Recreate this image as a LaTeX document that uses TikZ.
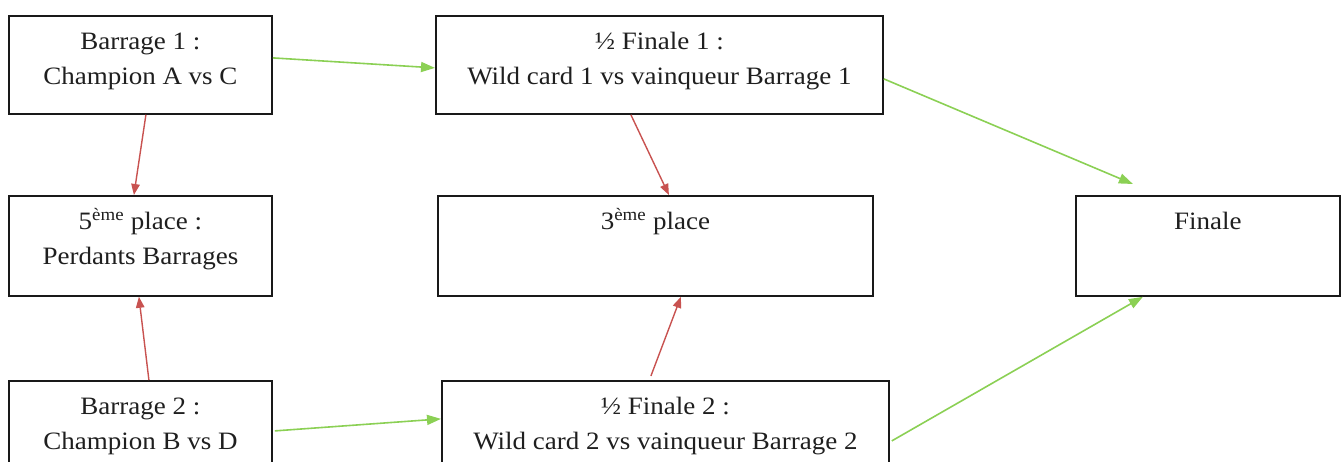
\documentclass[tikz,border=0pt]{standalone}
\usepackage{fontspec}
\setmainfont{Liberation Serif}[FakeStretch=1.08]
\usetikzlibrary{arrows.meta}
\definecolor{gline}{RGB}{139,208,84}
\definecolor{rline}{RGB}{200,82,80}
\begin{document}
\begin{tikzpicture}[x=1pt,y=-1pt,
  box/.style={draw=black!90,line width=1.8pt,anchor=north west,inner sep=0pt,fill=white},
  lbl/.style={anchor=north,inner sep=0pt,align=center,font=\fontsize{25}{35}\selectfont,text=black!88},
  garrow/.style={draw=gline,line width=1.6pt,-{Triangle[length=14pt,width=10pt]}},
  rarrow/.style={draw=rline,line width=1.4pt,-{Triangle[length=11pt,width=8.5pt]}}]
\clip (0,0) rectangle (1344,462);
\useasboundingbox (0,0) rectangle (1344,462);
% boxes
\node[box,minimum width=263pt,minimum height=98pt] (b1) at (8,15) {};
\node[box,minimum width=447pt,minimum height=98pt] (sf1) at (435,15) {};
\node[box,minimum width=263pt,minimum height=100pt] (p5) at (8,195) {};
\node[box,minimum width=435pt,minimum height=100pt] (p3) at (437,195) {};
\node[box,minimum width=264pt,minimum height=100pt] (fin) at (1075,195) {};
\node[box,minimum width=263pt,minimum height=100pt] (b2) at (8,380) {};
\node[box,minimum width=447pt,minimum height=100pt] (sf2) at (441,380) {};
% texts
\node[lbl] (tb1) at ([yshift=-9.5pt]b1.north) {\rule{0pt}{1em}Barrage 1 :\\Champion A vs C};
\node[lbl] (tsf1) at ([yshift=-9.5pt]sf1.north) {\rule{0pt}{1em}½ Finale 1 :\\Wild card 1 vs vainqueur Barrage 1};
\node[lbl] (tp5) at ([yshift=-9.5pt]p5.north) {\rule{0pt}{1em}5\textsuperscript{ème} place :\\Perdants Barrages};
\node[lbl] (tp3) at ([yshift=-9.5pt]p3.north) {\rule{0pt}{1em}3\textsuperscript{ème} place};
\node[lbl] (tfin) at ([yshift=-9.5pt]fin.north) {\rule{0pt}{1em}Finale};
\node[lbl] (tb2) at ([yshift=-9.5pt]b2.north) {\rule{0pt}{1em}Barrage 2 :\\Champion B vs D};
\node[lbl] (tsf2) at ([yshift=-9.5pt]sf2.north) {\rule{0pt}{1em}½ Finale 2 :\\Wild card 2 vs vainqueur Barrage 2};
% connectors
\draw[garrow] ([yshift=7pt]b1.east) -- ([yshift=-3pt]sf1.west);
\draw[rarrow] ([xshift=5.5pt]b1.south) -- ([xshift=-6.5pt]p5.north);
\draw[rarrow] ([xshift=-28.5pt]sf1.south) -- ([xshift=13.5pt]p3.north);
\draw[garrow] ([yshift=-14pt]sf1.east) -- ([xshift=-75pt,yshift=11pt]fin.north);
\draw[rarrow] ([xshift=8.5pt]b2.north) -- ([xshift=-1.5pt]p5.south);
\draw[rarrow] ([xshift=-14.5pt,yshift=4pt]sf2.north) -- ([xshift=25.5pt]p3.south);
\draw[garrow] ([xshift=2pt]b2.east) -- ([yshift=12pt]sf2.west);
\draw[garrow] ([xshift=2pt,yshift=-10pt]sf2.east) -- ([xshift=-65pt]fin.south);
\end{tikzpicture}
\end{document}
